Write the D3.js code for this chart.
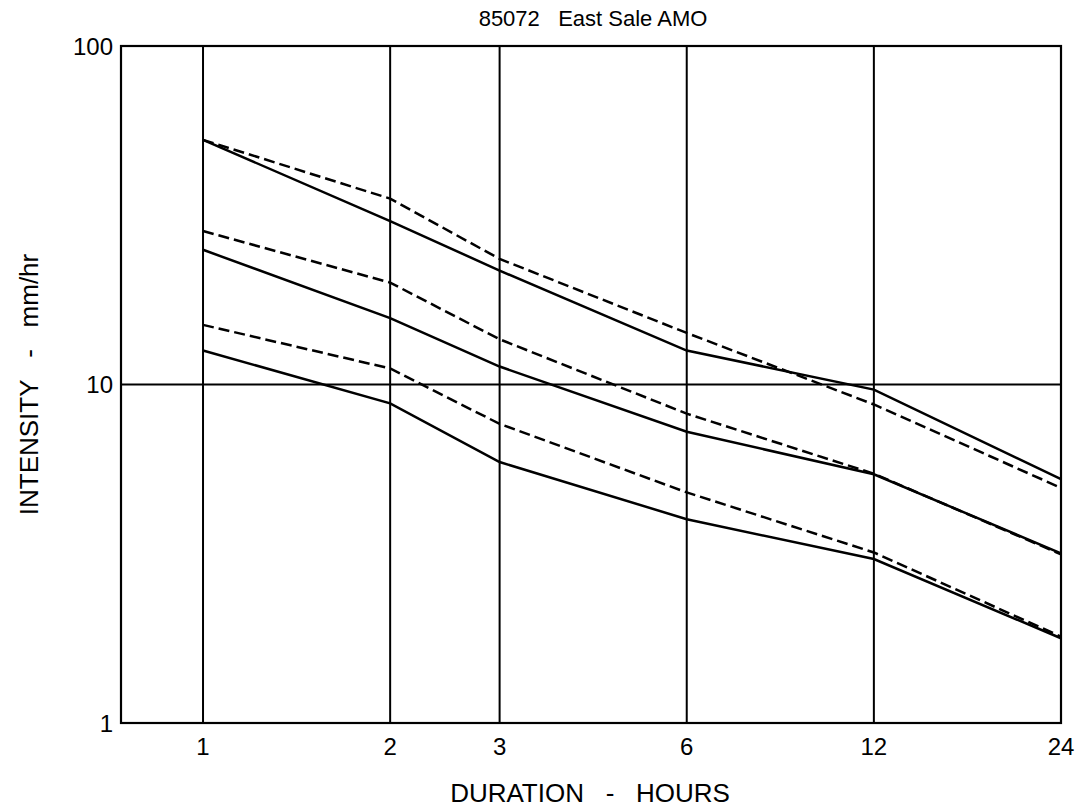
<!DOCTYPE html>
<html>
  <head>
    <meta charset="utf-8">
    <script src="https://d3js.org/d3.v7.min.js"></script>
    <style>
      body { margin: 0; background: #fff; }
      text { font-family: "Liberation Sans", Arial, sans-serif; fill: #000; }
    </style>
  </head>
<body>
  <script type="text/javascript">
    // durations (hours) and intensities (mm/hr)
    var durations = [1, 2, 3, 6, 12, 24];
    var solidLow  = [12.6, 8.8, 5.9, 4.0, 3.05, 1.78];
    var solidMid  = [25.0, 15.7, 11.3, 7.25, 5.43, 3.17];
    var solidHigh = [52.8, 30.4, 21.7, 12.6, 9.66, 5.25];
    var dashLow   = [15.0, 11.15, 7.65, 4.8, 3.19, 1.80];
    var dashMid   = [28.4, 20.0, 13.6, 8.2, 5.45, 3.15];
    var dashHigh  = [52.8, 35.4, 23.5, 14.2, 8.73, 4.95];
    var yTicks = [1, 10, 100];
    var title = "85072\u00a0\u00a0\u00a0East Sale AMO";

    var width = 1080, height = 807;
    var pLeft = 121, pRight = 1061, pTop = 46, pBottom = 723;

    var svg = d3.select("body").append("svg")
        .attr("width", width)
        .attr("height", height);

    var x = d3.scaleLog().domain([0.738, 24]).range([pLeft, pRight]);
    var y = d3.scaleLog().domain([1, 100]).range([pBottom, pTop]);

    // grid: vertical lines at each duration, horizontal at 10
    svg.selectAll("line.vgrid")
        .data(durations)
      .enter().append("line")
        .attr("x1", function(d) { return x(d); })
        .attr("x2", function(d) { return x(d); })
        .attr("y1", pTop).attr("y2", pBottom)
        .attr("stroke", "#000").attr("stroke-width", 2);

    svg.append("line")
        .attr("x1", pLeft).attr("x2", pRight)
        .attr("y1", y(10)).attr("y2", y(10))
        .attr("stroke", "#000").attr("stroke-width", 2);

    svg.append("rect")
        .attr("x", pLeft).attr("y", pTop)
        .attr("width", pRight - pLeft).attr("height", pBottom - pTop)
        .attr("fill", "none").attr("stroke", "#000").attr("stroke-width", 2.2);

    // axes labels
    svg.selectAll("text.ytick")
        .data(yTicks)
      .enter().append("text")
        .attr("x", pLeft - 8)
        .attr("y", function(d) { return y(d); })
        .attr("dy", "0.36em")
        .attr("text-anchor", "end")
        .attr("font-size", 24)
        .text(function(d) { return d; });

    svg.selectAll("text.xtick")
        .data(durations)
      .enter().append("text")
        .attr("x", function(d) { return x(d); })
        .attr("y", pBottom + 32)
        .attr("text-anchor", "middle")
        .attr("font-size", 24)
        .text(function(d) { return d; });

    svg.append("text")
        .attr("x", 593).attr("y", 26)
        .attr("text-anchor", "middle")
        .attr("font-size", 22)
        .text(title);

    svg.append("text")
        .attr("x", 590).attr("y", 802)
        .attr("text-anchor", "middle")
        .attr("font-size", 26)
        .text("DURATION\u00a0\u00a0\u00a0-\u00a0\u00a0\u00a0HOURS");

    svg.append("text")
        .attr("transform", "translate(38," + y(10) + ") rotate(-90)")
        .attr("text-anchor", "middle")
        .attr("font-size", 26)
        .text("INTENSITY\u00a0\u00a0\u00a0-\u00a0\u00a0\u00a0mm/hr");

    // curves
    var line = d3.line()
        .x(function(d, i) { return x(durations[i]); })
        .y(function(d) { return y(d); });

    var series = [
      { v: dashLow, dash: "11,5" },
      { v: dashMid, dash: "11,5" },
      { v: dashHigh, dash: "11,5" },
      { v: solidLow, dash: null },
      { v: solidMid, dash: null },
      { v: solidHigh, dash: null }
    ];

    svg.selectAll("path.curve")
        .data(series)
      .enter().append("path")
        .attr("d", function(s) { return line(s.v); })
        .attr("fill", "none")
        .attr("stroke", "#000")
        .attr("stroke-width", 2.5)
        .attr("stroke-dasharray", function(s) { return s.dash; });
  </script>
</body>
</html>
